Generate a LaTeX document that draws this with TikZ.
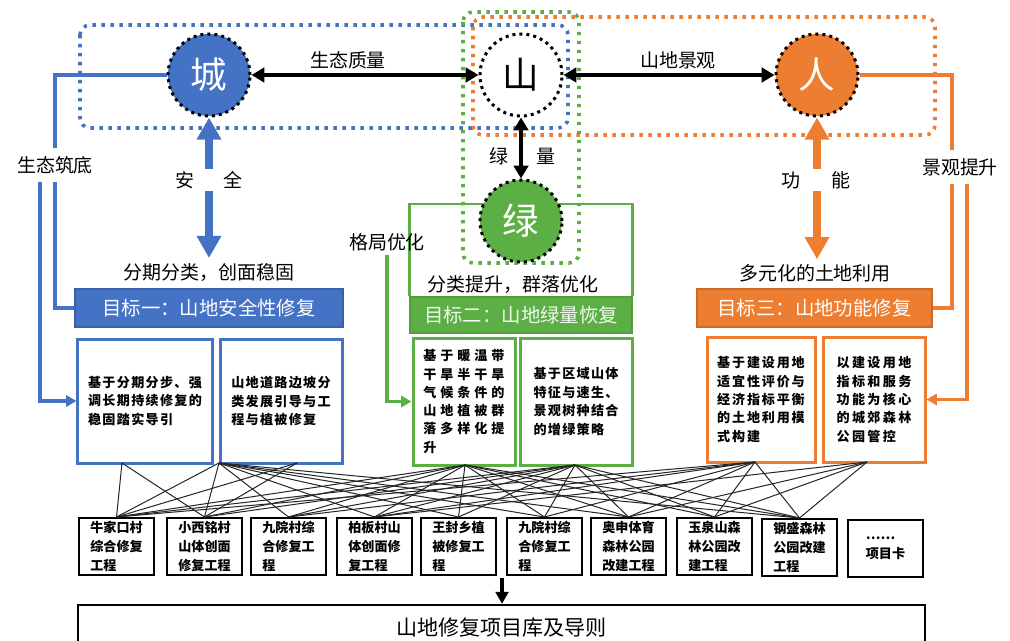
\documentclass[tikz,border=0pt]{standalone}
\usepackage{fontspec}
\setmainfont{Noto Sans CJK SC}
\usetikzlibrary{arrows.meta,calc}
\definecolor{cblue}{RGB}{68,114,196}
\definecolor{corange}{RGB}{237,125,49}
\definecolor{cgreen}{RGB}{92,175,69}
\begin{document}
\begin{tikzpicture}[x=0.25mm,y=-0.25mm,
  dotbox/.style={line width=0.9mm, dash pattern=on 0.85mm off 1.4mm, rounded corners=2.5mm},
  circ/.style={circle, minimum size=20.5mm, inner sep=0pt, draw=black, line width=0.75mm, dash pattern=on 0.75mm off 1mm, font=\fontsize{26}{26}\selectfont},
  lbl/.style={font=\fontsize{13.5}{16}\selectfont},
  goal/.style={minimum height=9.5mm, text=white, inner sep=0pt, line width=0.3mm, font=\fontsize{13.8}{16}\selectfont},
  sbox/.style={draw, line width=0.75mm, fill=white, align=left, inner sep=0pt, font=\bfseries\fontsize{9.3}{13.1}\selectfont\addfontfeature{LetterSpace=10}},
  card/.style={draw, line width=0.5mm, minimum width=18.75mm, minimum height=14.25mm, inner sep=0pt, align=left, font=\bfseries\fontsize{9.3}{13.5}\selectfont},
  blk/.style={line width=1mm, {Triangle[length=3.2mm,width=3.6mm]}-{Triangle[length=3.2mm,width=3.6mm]}},
  bigarr/.style={line width=2mm, {Triangle[length=5.5mm,width=5.8mm]}-{Triangle[length=5.5mm,width=5.8mm]}},
  link/.style={line width=0.85mm},
  tip/.style={-{Triangle[length=2.6mm,width=2.8mm]}},
  net/.style={line width=0.25mm, black!85}
]
\clip (0,0) rectangle (1010,641);
\useasboundingbox (0,0) rectangle (1010,641);
\fill[white] (0,0) rectangle (1010,641);

% dotted groups
\draw[dotbox, cblue] (80,25) rectangle (568,128);
\draw[dotbox, corange] (473,17) rectangle (935,135);
\draw[dotbox, cgreen] (463,12) rectangle (579,263);

% goal bars and headings
\node[lbl] (h1) at (209,272) {分期分类，创面稳固};
\node[lbl] (h2) at (513,285) {分类提升，群落优化};
\node[lbl] (h3) at (815,273) {多元化的土地利用};
\node[goal, fill=cblue, draw=cblue!85!black, minimum width=67mm] (g1) at (209,308) {目标一：山地安全性修复};
\node[goal, fill=cgreen, draw=cgreen!90!black, minimum width=55.5mm, minimum height=9mm, text=white!92!cgreen] (g2) at (521,315) {目标二：山地绿量恢复};
\node[goal, fill=corange, draw=corange!85!black, minimum width=58.75mm] (g3) at (814.5,308) {目标三：山地功能修复};

% green frame behind the green circle
\coordinate (gt) at (521,204);
\draw[cgreen, line width=0.7mm] (g2.north west) |- (gt) -| (g2.north east);

% circles
\node[circ, fill=cblue, text=white] (cheng) at (209,75) {城};
\node[circ, fill=white] (shan) at (521,75) {山};
\node[circ, fill=corange, text=white] (ren) at (817,75) {人};
\node[circ, fill=cgreen, text=white] (lv) at (521,221) {绿};

% black arrows between circles
\draw[blk] (cheng) -- (shan);
\draw[blk] (shan) -- (ren);
\draw[blk] (shan) -- (lv);
\node[lbl] (q1) at (348,60) {生态质量};
\node[lbl] (q2) at (678,60) {山地景观};
\node[lbl] (q3) at (499,156) {绿};
\node[lbl] (q4) at (546,156) {量};

% big vertical arrows
\draw[bigarr, cblue] (cheng.south) -- (cheng.south |- h1.north);
\node[lbl, fill=white, inner sep=0.6mm] (anq) at (209,180) {安\hspace{7.25mm}全};
\draw[bigarr, corange] (ren.south) -- (ren.south |- h3.north);
\node[lbl, fill=white, inner sep=0.6mm] (gn) at (816,180) {功\hspace{7.75mm}能};

% strategy boxes
\node[sbox, draw=cblue, minimum width=33.5mm, minimum height=31mm] (b1) at (145,401) {基于分期分步、强\\调长期持续修复的\\稳固踏实导引};
\node[sbox, draw=cblue, minimum width=30.5mm, minimum height=31mm] (b2) at (281,401) {山地道路边坡分\\类发展引导与工\\程与植被修复};
\node[sbox, draw=cgreen, minimum width=25.5mm, minimum height=31.75mm, font=\bfseries\fontsize{9.3}{13}\selectfont\addfontfeature{LetterSpace=30}] (gb1) at (464,401.5) {基于暖温带\\干旱半干旱\\气候条件的\\山地植被群\\落多样化提\\升};
\node[sbox, draw=cgreen, minimum width=28mm, minimum height=31.75mm] (gb2) at (576,401.5) {基于区域山体\\特征与速生、\\景观树种结合\\的增绿策略};
\node[sbox, draw=corange, minimum width=27mm, minimum height=31.25mm, font=\bfseries\fontsize{9.3}{13.1}\selectfont\addfontfeature{LetterSpace=14}] (ob1) at (761,399.5) {基于建设用地\\适宜性评价与\\经济指标平衡\\的土地利用模\\式构建};
\node[sbox, draw=corange, minimum width=25.5mm, minimum height=31.25mm, font=\bfseries\fontsize{9.3}{13.1}\selectfont\addfontfeature{LetterSpace=18}] (ob2) at (874,399.5) {以建设用地\\指标和服务\\功能为核心\\的城郊森林\\公园管控};

% side connectors
\node[lbl, inner sep=2mm] (sz) at (55,165) {生态筑底};
\draw[link, cblue] (cheng.west) -| (sz.north);
\draw[link, cblue] (sz.south) |- (g1.west);
\draw[link, cblue, tip] ([xshift=-3.75mm]sz.south) |- (b1.west);

\node[lbl, inner sep=2mm] (jg) at (960,167) {景观提升};
\draw[link, corange] (ren.east) -| ([xshift=-2mm]jg.north);
\draw[link, corange] ([xshift=-2mm]jg.south) |- (g3.east);
\draw[link, corange, tip] ([xshift=1.75mm]jg.south) |- (ob2.east);

\node[lbl, inner sep=1mm] (gj) at (387,242) {格局优化};
\draw[link, cgreen, tip] (gj.south) |- (gb1.west);

% project cards
\node[card] (c1) at (116.5,546.5) {牛家口村\\综合修复\\工程};
\node[card] (c2) at (204.5,546.5) {小西铭村\\山体创面\\修复工程};
\node[card] (c3) at (288.5,546.5) {九院村综\\合修复工\\程};
\node[card] (c4) at (374.5,546.5) {柏板村山\\体创面修\\复工程};
\node[card] (c5) at (458.5,546.5) {王封乡植\\被修复工\\程};
\node[card] (c6) at (544.5,546.5) {九院村综\\合修复工\\程};
\node[card] (c7) at (628.5,546.5) {奥申体育\\森林公园\\改建工程};
\node[card] (c8) at (714.5,546.5) {玉泉山森\\林公园改\\建工程};
\node[card] (c9) at (799.5,547.5) {钢盛森林\\公园改建\\工程};
\node[card] (c10) at (885.5,548.5) {……\\项目卡};

% network
\coordinate (B1) at (122,463);
\coordinate (B2a) at (219,463);
\coordinate (B2b) at (297,463);
\coordinate (G1) at (465,465);
\coordinate (G2) at (575,465);
\coordinate (O1) at (755,462);
\coordinate (O2) at (867,462);
\foreach \s/\t in {B1/c1, B1/c2, B2a/c1, B2b/c1, G1/c1, G2/c1, O1/c1,
  B2a/c2, B2b/c2, G1/c2, G2/c2,
  B2a/c3, G1/c3, G2/c3, O1/c3,
  B2a/c4, G1/c4, G2/c4, O1/c4, O2/c4,
  B2a/c5, G1/c5, G2/c5,
  B2a/c6, G1/c6, G2/c6, O1/c6,
  B2a/c7, G1/c7, G2/c7, O1/c7, O2/c7,
  G1/c8, G2/c8, O1/c8, O2/c8,
  B2a/c9, G1/c9, G2/c9, O1/c9, O2/c9}
  \draw[net] (\s) -- (\t.north);

% library
\node[draw, line width=0.6mm, minimum width=211.75mm, minimum height=11.5mm, inner sep=0pt, font=\fontsize{15}{18}\selectfont] (lib) at (501.5,628) {山地修复项目库及导则};
\coordinate (cr) at (502,578);
\draw[line width=0.8mm, -{Triangle[length=3mm,width=3.2mm]}] (cr) -- (cr |- lib.north);
\end{tikzpicture}
\end{document}
